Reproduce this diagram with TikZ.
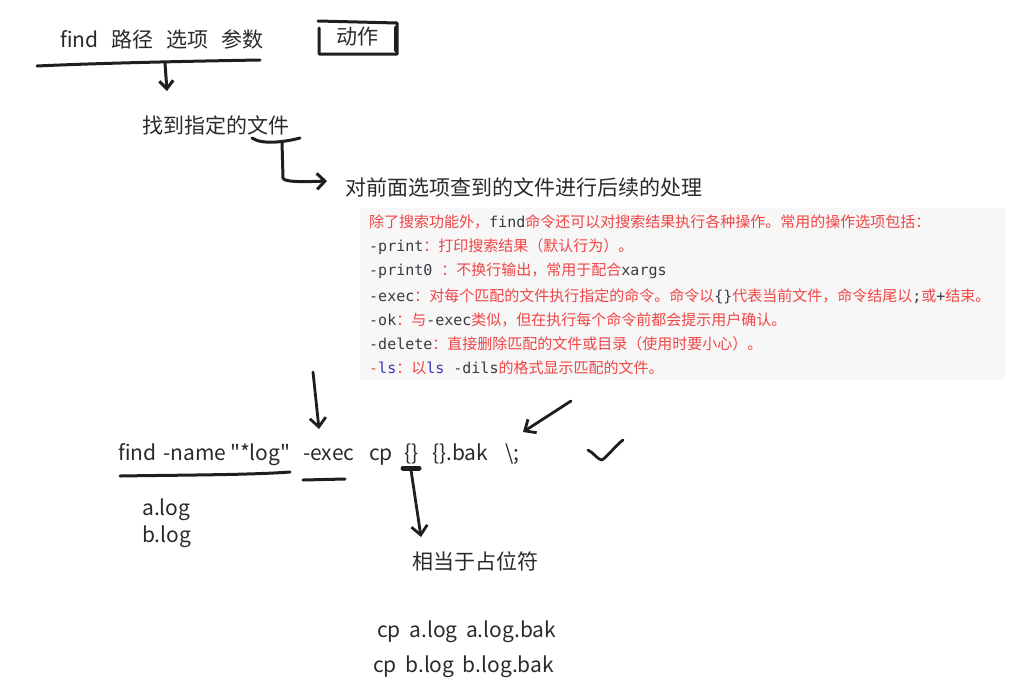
\documentclass[tikz,border=0pt]{standalone}
\usepackage{fontspec}
\setmainfont{Noto Sans CJK SC}
\newfontfamily\cjk{Noto Sans CJK SC}
\newfontfamily\handlatin[WordSpace=1.8]{Noto Sans CJK SC}
\newfontfamily\mono{DejaVu Sans Mono}
\usetikzlibrary{arrows.meta}
\definecolor{ink}{HTML}{1E1E1E}
\definecolor{txt}{HTML}{2A2A2A}
\definecolor{boxbg}{HTML}{F7F7F7}
\definecolor{zhred}{HTML}{F04545}
\definecolor{codegray}{HTML}{383A42}
\definecolor{lsblue}{HTML}{3B36B0}
\newcommand{\cd}[1]{{\mono\color{codegray}#1}}
\newcommand{\zh}[1]{{\cjk\color{zhred}#1}}
\newcommand{\wseg}[2]{\makebox[#1pt][l]{#2}}
\tikzset{
  hand/.style={font=\fontsize{21}{24}\selectfont, text=txt, inner sep=0pt, anchor=west},
  handl/.style={font=\handlatin\fontsize{21}{24}\selectfont, text=txt, inner sep=0pt, anchor=west},
  boxline/.style={font=\fontsize{15}{17}\selectfont, inner sep=0pt, anchor=west},
  stroke/.style={draw=ink, line width=3pt, line cap=round, line join=round},
  thin stroke/.style={draw=ink, line width=2.8pt, line cap=round, line join=round},
  harrow/.style={thin stroke, -{Straight Barb[length=9pt, width=16pt, line width=2.8pt]}},
}
\begin{document}
\begin{tikzpicture}[x=1pt,y=-1pt]
\useasboundingbox (0,0) rectangle (1016,691);
% top line
\node[hand] (syntax) at (60,39) {find\hspace{13pt}路径\hspace{13pt}选项\hspace{13pt}参数};
\node[hand] (action) at (336,37) {动作};
\draw[stroke] (318,21) -- (397,23) -- (397,54) -- (319,54) -- (319,28);
\draw[draw=ink, line width=4.5pt, line cap=round] (396,28) -- (396,50);
\coordinate (ulA) at (37,66);
\coordinate (ulB) at (260,60);
\draw[stroke] (ulA) .. controls (100,63) and (200,61) .. (ulB);
\coordinate (a1s) at (165,63);
\node[hand] (found) at (142,125) {找到指定的文件};
\draw[stroke, -{Straight Barb[length=8pt, width=14pt, line width=3pt]}] (a1s) -- (167,91);
% hook arrow
\draw[stroke] (252,138) .. controls (262,145) and (285,142) .. (300,138);
\node[hand] (process) at (345,187) {对前面选项查到的文件进行后续的处理};
\coordinate (hk) at (282,142);
\draw[stroke, -{Straight Barb[length=8pt, width=16pt, line width=3pt]}] (hk) -- (283,178) .. controls (284,182) and (300,182) .. (327,181);
% grey box
\node[fill=boxbg, minimum width=645pt, minimum height=172pt, anchor=north west, inner sep=0pt] (box) at (360,208) {};
\node[boxline] (l1) at (369,222) {\zh{除了搜索功能外，}\cd{find}\zh{命令还可以对搜索结果执行各种操作。常用的操作选项包括：}};
\node[boxline] (l2) at (369,247) {\cd{-print}\zh{：打印搜索结果（默认行为）。}};
\node[boxline] (l3) at (369,271) {\cd{-print0\ }\zh{：不换行输出，常用于配合}\cd{xargs}};
\node[boxline] (l4) at (369,296) {\cd{-exec}\zh{：对每个匹配的文件执行指定的命令。命令以}\cd{\{\}}\zh{代表当前文件，命令结尾以}\cd{;}\zh{或}\cd{+}\zh{结束。}};
\node[boxline] (l5) at (369,320) {\cd{-ok}\zh{：与}\cd{-exec}\zh{类似，但在执行每个命令前都会提示用户确认。}};
\node[boxline] (l6) at (369,344) {\cd{-delete}\zh{：直接删除匹配的文件或目录（使用时要小心）。}};
\node[boxline] (l7) at (369,368) {{\mono\color{zhred}-}{\mono\color{lsblue}ls}\zh{：以}{\mono\color{lsblue}ls}\cd{\ -dils}\zh{的格式显示匹配的文件。}};
% command line
\node[handl] (cmd) at (118,455) {\wseg{45}{find}\wseg{67}{-name}\wseg{73}{\symbol{34}*log\symbol{34}}\wseg{66}{-exec}\wseg{35}{cp}\wseg{28}{\{\}}\wseg{73}{\{\}.bak}\textbackslash;};
\coordinate (d1s) at (313,372);
\draw[harrow] (d1s) -- (319,429);
\coordinate (d2s) at (571,401);
\draw[harrow] (d2s) -- (523,432);
\draw[thin stroke] (588,450) .. controls (594,453) and (598,460) .. (602,460) .. controls (608,456) and (615,446) .. (623,440);
\draw[stroke] (120,476) .. controls (180,475) and (250,475) .. (290,472);
\draw[stroke] (303,480) -- (345,479);
\draw[draw=ink, line width=5pt, line cap=round] (403,468) -- (419,468);
\coordinate (d3s) at (411,470);
\node[hand] (ph) at (412,561) {相当于占位符};
\draw[harrow] (d3s) -- (421,537);
\node[handl] (alog) at (142,510) {a.log};
\node[handl] (blog) at (142,537) {b.log};
\node[handl] (cpa) at (377,632) {cp a.log a.log.bak};
\node[handl] (cpb) at (373,667) {cp b.log b.log.bak};
\end{tikzpicture}
\end{document}
